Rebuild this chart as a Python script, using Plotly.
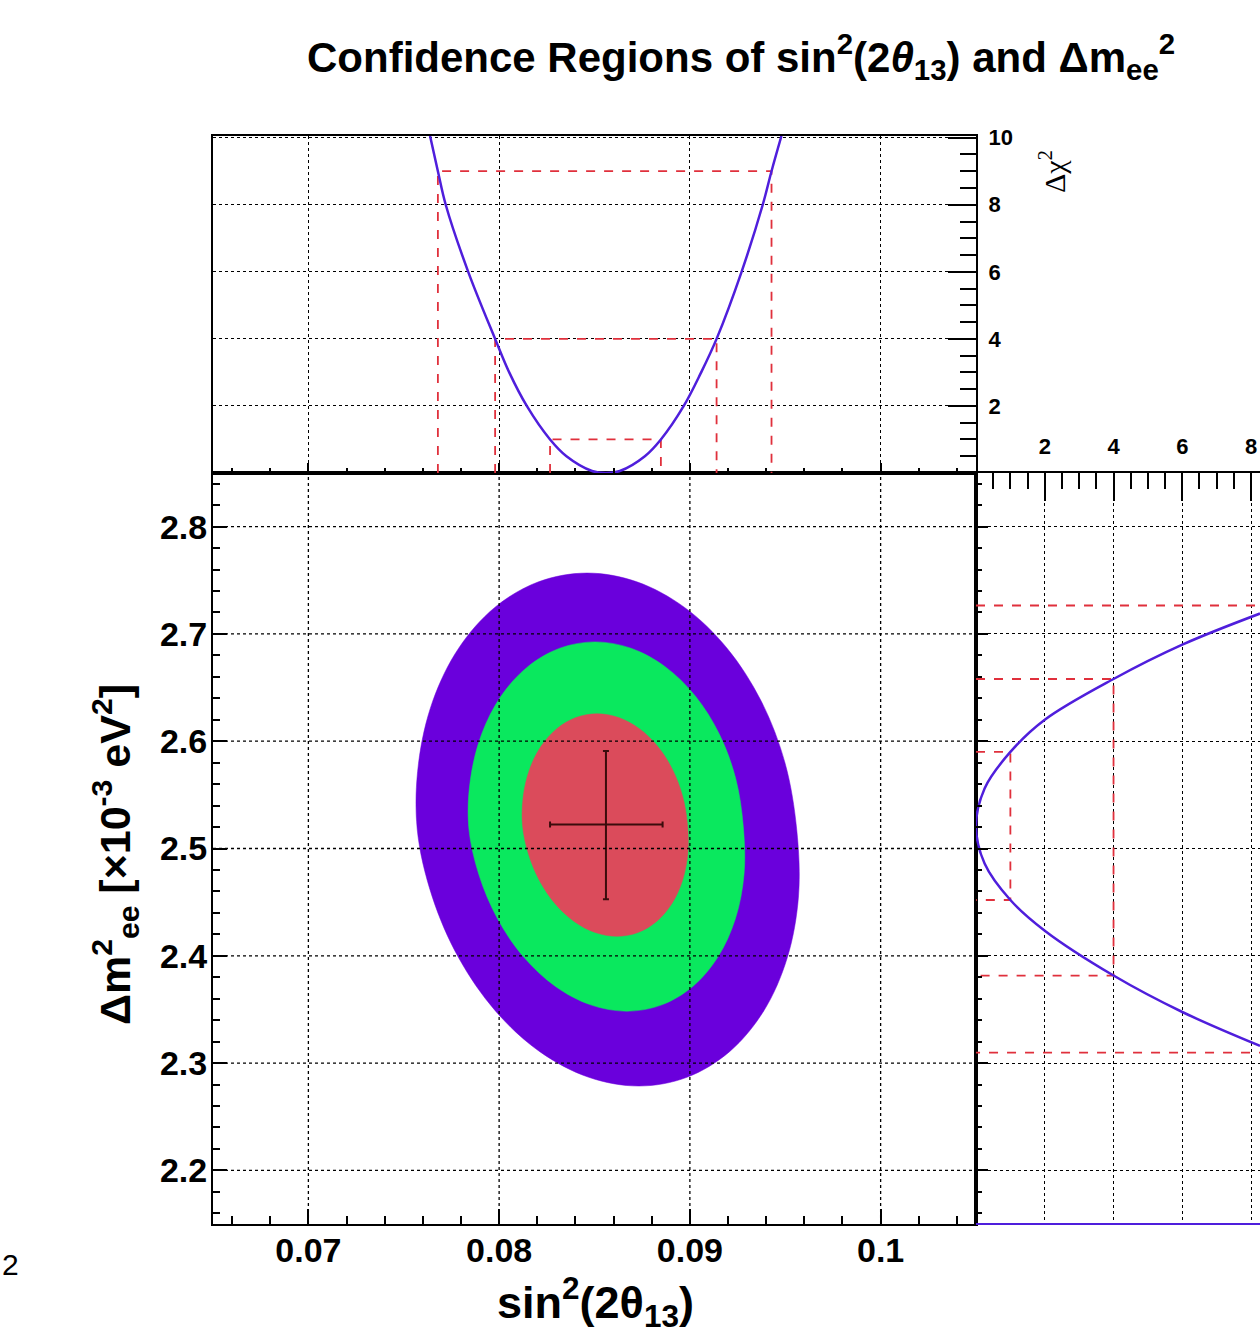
import plotly.graph_objects as go

# ---------------- data ----------------
x_ticks = [0.07, 0.08, 0.09, 0.1]
x_ticklabels = ["0.07", "0.08", "0.09", "0.1"]
y_ticks = [2.2, 2.3, 2.4, 2.5, 2.6, 2.7, 2.8]
y_ticklabels = ["2.2", "2.3", "2.4", "2.5", "2.6", "2.7", "2.8"]
chi_ticks_top = [2, 4, 6, 8, 10]
chi_ticks_right = [2, 4, 6, 8]

# best fit and 1-sigma errors
best_sin2 = 0.0856
best_dm = 2.5223
sin2_err_minus = 0.00293
sin2_err_plus = 0.00297
dm_err_plus = 0.0686
dm_err_minus = 0.0695

# 99.7% C.L. contour (outer, purple)
cl3_sin2 = [0.095602, 0.095696, 0.095106, 0.093873, 0.092079, 0.089847, 0.087329, 0.084698,
            0.082131, 0.079805, 0.077877, 0.076479, 0.075706, 0.075775, 0.076516, 0.077880,
            0.079773, 0.082068, 0.084607, 0.087217, 0.089721, 0.091948, 0.093745, 0.094991, 0.095602]
cl3_dm = [2.51767, 2.45580, 2.39814, 2.34862, 2.31064, 2.28675, 2.27860, 2.28675,
          2.31064, 2.34862, 2.39814, 2.45580, 2.51767, 2.57954, 2.63721, 2.68672,
          2.72471, 2.74859, 2.75674, 2.74859, 2.72471, 2.68672, 2.63721, 2.57954, 2.51767]

# 95.5% C.L. contour (middle, green)
cl2_sin2 = [0.092801, 0.092840, 0.092386, 0.091470, 0.090154, 0.088527, 0.086702, 0.084801,
            0.082955, 0.081289, 0.079918, 0.078933, 0.078403, 0.078500, 0.079080, 0.080104,
            0.081504, 0.083183, 0.085026, 0.086909, 0.088703, 0.090285, 0.091548, 0.092406, 0.092801]
cl2_dm = [2.52047, 2.47593, 2.43443, 2.39879, 2.37144, 2.35425, 2.34838, 2.35425,
          2.37144, 2.39879, 2.43443, 2.47593, 2.52047, 2.56501, 2.60652, 2.64216,
          2.66950, 2.68669, 2.69256, 2.68669, 2.66950, 2.64216, 2.60652, 2.56501, 2.52047]

# 68.3% C.L. contour (inner, red)
cl1_sin2 = [0.089875, 0.089890, 0.089609, 0.089052, 0.088256, 0.087276, 0.086178, 0.085038,
            0.083932, 0.082936, 0.082119, 0.081535, 0.081225, 0.081265, 0.081595, 0.082196,
            0.083025, 0.084026, 0.085131, 0.086265, 0.087350, 0.088312, 0.089086, 0.089619, 0.089875]
cl1_dm = [2.52186, 2.49502, 2.47000, 2.44852, 2.43204, 2.42168, 2.41814, 2.42168,
          2.43204, 2.44852, 2.47000, 2.49502, 2.52186, 2.54870, 2.57372, 2.59520,
          2.61168, 2.62204, 2.62558, 2.62204, 2.61168, 2.59520, 2.57372, 2.54870, 2.52186]

# Delta chi^2 profile vs sin^2(2theta13) (top panel)
prof_sin2 = [0.07638, 0.07679, 0.0772, 0.07838, 0.07979, 0.08053, 0.08145, 0.08267, 0.08353,
             0.08487, 0.0856, 0.08633, 0.08764, 0.08848, 0.08968, 0.09059, 0.0914, 0.09271,
             0.09382, 0.09428, 0.0948]
prof_sin2_chi = [10.05, 9, 8, 6, 4, 3, 2, 1, 0.5, 0.06, 0, 0.06, 0.5, 1, 2, 3, 4, 6, 8, 9, 10.05]

# Delta chi^2 profile vs Delta m^2_ee (right panel)
prof_dm_chi = [8.26, 6, 4, 2, 1, 0.25, 0, 0.25, 1, 2, 4, 6, 8.26]
prof_dm = [2.719, 2.690, 2.658, 2.620, 2.590, 2.556, 2.521, 2.486, 2.452, 2.4234, 2.3816, 2.3476, 2.316]

# interval levels (Delta chi^2 = 1, 4, 9) and their bounds
levels = [1, 4, 9]
sin2_lo = [0.08267, 0.07979, 0.07679]
sin2_hi = [0.08848, 0.09140, 0.09428]
dm_lo = [2.452, 2.3816, 2.3097]
dm_hi = [2.590, 2.658, 2.7265]

# ---------------- styling ----------------
W, H = 1260, 1336
FONT = "Liberation Sans, Arial, Helvetica, sans-serif"
PURPLE = "#6A00DC"
GREEN = "#0AE85E"
RED = "#DB4B5B"
CURVE = "#4F1EDC"
DASH = "#E0303C"

X_MAIN = [213 / W, 976 / W]
X_RIGHT = [976 / W, 1.0]
Y_MAIN = [1 - 1224 / H, 1 - 473 / H]
Y_TOP = [1 - 473 / H, 1 - 136 / H]

fig = go.Figure()

# contours
for xs, ys, col in [(cl3_sin2, cl3_dm, PURPLE), (cl2_sin2, cl2_dm, GREEN), (cl1_sin2, cl1_dm, RED)]:
    fig.add_trace(go.Scatter(x=xs, y=ys, mode="lines", fill="toself", fillcolor=col,
                             line=dict(color=col, width=0.5, shape="spline", smoothing=1.0),
                             hoverinfo="skip", showlegend=False, xaxis="x", yaxis="y"))

# best fit with error bars
fig.add_trace(go.Scatter(x=[best_sin2], y=[best_dm], mode="markers",
                         marker=dict(size=1, color="#3a0c0c"),
                         error_x=dict(type="data", symmetric=False, array=[sin2_err_plus],
                                      arrayminus=[sin2_err_minus], color="#3a0c0c", thickness=2, width=3),
                         error_y=dict(type="data", symmetric=False, array=[dm_err_plus],
                                      arrayminus=[dm_err_minus], color="#3a0c0c", thickness=2, width=3),
                         showlegend=False, xaxis="x", yaxis="y"))

# top panel: dashed interval boxes and profile curve
for lv, lo, hi in zip(levels, sin2_lo, sin2_hi):
    fig.add_trace(go.Scatter(x=[lo, lo, hi, hi], y=[0, lv, lv, 0], mode="lines",
                             line=dict(color=DASH, width=1.8, dash="dash"),
                             showlegend=False, hoverinfo="skip", xaxis="x2", yaxis="y2"))
fig.add_trace(go.Scatter(x=prof_sin2, y=prof_sin2_chi, mode="lines",
                         line=dict(color=CURVE, width=2.5, shape="spline", smoothing=1.0),
                         showlegend=False, xaxis="x2", yaxis="y2"))

# right panel: dashed interval boxes and profile curve
for lv, lo, hi in zip(levels, dm_lo, dm_hi):
    fig.add_trace(go.Scatter(x=[0, lv, lv, 0], y=[hi, hi, lo, lo], mode="lines",
                             line=dict(color=DASH, width=1.8, dash="dash"),
                             showlegend=False, hoverinfo="skip", xaxis="x3", yaxis="y3"))
fig.add_trace(go.Scatter(x=prof_dm_chi, y=prof_dm, mode="lines",
                         line=dict(color=CURVE, width=2.5, shape="spline"),
                         showlegend=False, xaxis="x3", yaxis="y3"))

tick_font = dict(family=FONT, size=34, color="black", weight="bold")
small_font = dict(family=FONT, size=22, color="black", weight="bold")
grid = dict(showgrid=True, gridcolor="black", gridwidth=1.3, griddash="dot")
nogrid = dict(showgrid=False)
axline = dict(showline=True, linecolor="black", linewidth=2, zeroline=False, automargin=False)

fig.update_layout(
    width=W, height=H, autosize=False,
    margin=dict(l=0, r=0, t=0, b=0, pad=0),
    paper_bgcolor="white", plot_bgcolor="white",
    showlegend=False,
    xaxis=dict(domain=X_MAIN, anchor="y", range=[0.065, 0.105],
               tickmode="array", tickvals=x_ticks, ticktext=x_ticklabels,
               ticks="inside", ticklen=15, tickwidth=2, tickcolor="black",
               minor=dict(tickmode="linear", tick0=0.06, dtick=0.002, ticks="inside",
                          ticklen=8, tickwidth=1.5, tickcolor="black", showgrid=False),
               mirror=True, tickfont=tick_font, ticklabelstandoff=-5, **axline, **nogrid),
    yaxis=dict(domain=Y_MAIN, anchor="x", range=[2.15, 2.85],
               tickmode="array", tickvals=y_ticks, ticktext=y_ticklabels,
               ticks="inside", ticklen=14, tickwidth=2, tickcolor="black",
               minor=dict(tickmode="linear", tick0=2.0, dtick=0.02, ticks="inside",
                          ticklen=7, tickwidth=1.5, tickcolor="black", showgrid=False),
               mirror=True, tickfont=tick_font, ticklabelstandoff=-3, **axline, **nogrid),
    xaxis2=dict(domain=X_MAIN, anchor="y2", matches="x", range=[0.065, 0.105],
                tickmode="array", tickvals=x_ticks, showticklabels=False,
                ticks="inside", ticklen=10, tickwidth=2, tickcolor="black",
                minor=dict(tickmode="linear", tick0=0.06, dtick=0.002, ticks="inside",
                           ticklen=5, tickwidth=1.5, tickcolor="black", showgrid=False),
                mirror=True, **axline, **grid),
    yaxis2=dict(domain=Y_TOP, anchor="x2", side="right", range=[0, 10.05],
                tickmode="array", tickvals=chi_ticks_top, ticktext=[str(v) for v in chi_ticks_top],
                ticks="inside", ticklen=28, tickwidth=2, tickcolor="black",
                minor=dict(tickmode="linear", tick0=0, dtick=0.5, ticks="inside",
                           ticklen=16, tickwidth=1.5, tickcolor="black", showgrid=False),
                mirror=True, tickfont=small_font, ticklabelstandoff=6, **axline, **grid),
    xaxis3=dict(domain=X_RIGHT, anchor="y3", side="top", range=[0, 8.26],
                tickmode="array", tickvals=chi_ticks_right, ticktext=[str(v) for v in chi_ticks_right],
                ticks="inside", ticklen=28, tickwidth=2, tickcolor="black",
                minor=dict(tickmode="linear", tick0=0, dtick=0.5, ticks="inside",
                           ticklen=16, tickwidth=1.5, tickcolor="black", showgrid=False),
                tickfont=small_font, ticklabelstandoff=8, **axline, **grid),
    yaxis3=dict(domain=Y_MAIN, anchor="x3", matches="y", range=[2.15, 2.85],
                tickmode="array", tickvals=y_ticks, showticklabels=False,
                ticks="inside", ticklen=12, tickwidth=2, tickcolor="black",
                minor=dict(tickmode="linear", tick0=2.0, dtick=0.02, ticks="inside",
                           ticklen=6, tickwidth=1.5, tickcolor="black", showgrid=False),
                **axline, **grid),
)

# main-panel grid drawn above the filled contours
shapes = []
for xv in x_ticks:
    shapes.append(dict(type="line", xref="x", yref="y domain", x0=xv, x1=xv, y0=0, y1=1,
                       line=dict(color="black", width=1.3, dash="dot"), layer="above"))
for yv in y_ticks:
    shapes.append(dict(type="line", xref="x domain", yref="y", x0=0, x1=1, y0=yv, y1=yv,
                       line=dict(color="black", width=1.3, dash="dot"), layer="above"))
# blue baseline along bottom of right panel
shapes.append(dict(type="line", xref="x3 domain", yref="y3 domain", x0=0, x1=1, y0=0, y1=0,
                   line=dict(color=CURVE, width=2), layer="above"))
fig.update_layout(shapes=shapes)

annotations = [
    dict(text="<b>Confidence Regions of sin<sup>2</sup>(2<i>θ</i><sub>13</sub>) and Δm<sub>ee</sub><sup>2</sup></b>",
         x=741 / W, y=1 - 57 / H, xref="paper", yref="paper", xanchor="center", yanchor="middle",
         showarrow=False, font=dict(family=FONT, size=42, color="black")),
    dict(text="<b>sin<sup>2</sup>(2θ<sub>13</sub>)</b>",
         x=595 / W, y=1 - 1302 / H, xref="paper", yref="paper", xanchor="center", yanchor="middle",
         showarrow=False, font=dict(family=FONT, size=45, color="black")),
    dict(text="<b>Δm<sup>2</sup><sub>ee</sub> [×10<sup>-3</sup> eV<sup>2</sup>]</b>",
         x=115 / W, y=1 - 855 / H, xref="paper", yref="paper", xanchor="center", yanchor="middle",
         textangle=-90, showarrow=False, font=dict(family=FONT, size=43, color="black")),
    dict(text="Δχ<sup>2</sup>",
         x=1052 / W, y=1 - 172 / H, xref="paper", yref="paper", xanchor="center", yanchor="middle",
         textangle=-90, showarrow=False, font=dict(family="Liberation Serif, serif", size=30, color="black")),
    dict(text="2", x=0, y=1 - 1264 / H, xref="paper", yref="paper", xanchor="left", yanchor="middle",
         showarrow=False, font=dict(family=FONT, size=30, color="black")),
]
fig.update_layout(annotations=annotations)

fig.write_html("out.html", config={"displayModeBar": False},
               post_script="document.body.style.margin='0';document.body.style.overflow='hidden';")
